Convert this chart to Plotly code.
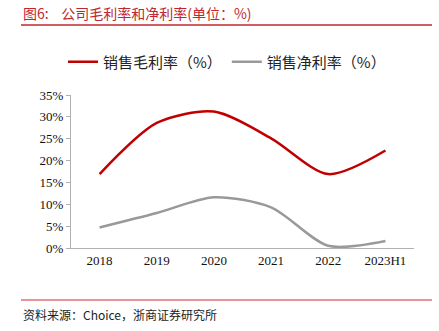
import plotly.graph_objects as go

categories = ["2018", "2019", "2020", "2021", "2022", "2023H1"]
gross_margin = [16.9, 28.6, 31.2, 25.1, 16.9, 22.3]
net_margin = [4.7, 8.0, 11.6, 9.3, 0.5, 1.6]
y_ticks = [0, 5, 10, 15, 20, 25, 30, 35]
y_tick_labels = [f"{v}%" for v in y_ticks]

W, H = 439, 331
L, R, T, B = 71, 25, 95, 83
pw, ph = W - L - R, H - T - B

def px_x(x):
    return (x - L) / pw

def px_y(y):
    return (H - B - y) / ph

cjk = "Noto Sans CJK SC"
serif = "Liberation Serif, Times New Roman, serif"

fig = go.Figure()
fig.add_trace(go.Scatter(x=categories, y=gross_margin, mode="lines",
                         name="销售毛利率（%）",
                         line=dict(color="#c00000", width=2.5, shape="spline", smoothing=0.8)))
fig.add_trace(go.Scatter(x=categories, y=net_margin, mode="lines",
                         name="销售净利率（%）",
                         line=dict(color="#999999", width=2.5, shape="spline", smoothing=0.8)))

fig.update_layout(
    width=W, height=H,
    margin=dict(l=L, r=R, t=T, b=B),
    paper_bgcolor="white", plot_bgcolor="white",
    showlegend=True,
    legend=dict(orientation="h", x=px_x(227), xanchor="center", y=px_y(62), yanchor="middle",
                font=dict(family=cjk, size=15, color="#222222"), itemwidth=30,
                tracegroupgap=0, bgcolor="rgba(0,0,0,0)"),
    xaxis=dict(type="category", range=[-0.5, 5.5], showgrid=False, showline=True,
               linecolor="#b0b0b0", linewidth=1, ticks="",
               tickfont=dict(family=serif, size=13, color="#111111"), fixedrange=True),
    yaxis=dict(range=[0, 35], tickvals=y_ticks, ticktext=y_tick_labels, showgrid=False,
               showline=True, linecolor="#b0b0b0", linewidth=1, ticks="outside",
               ticklen=4, tickcolor="#b0b0b0", zeroline=False,
               tickfont=dict(family=serif, size=13, color="#111111"), fixedrange=True),
    shapes=[
        dict(type="line", xref="paper", yref="paper", x0=px_x(21), x1=px_x(432),
             y0=px_y(25), y1=px_y(25), line=dict(color="#c0272d", width=1.5)),
        dict(type="line", xref="paper", yref="paper", x0=px_x(21), x1=px_x(432),
             y0=px_y(300), y1=px_y(300), line=dict(color="#e07070", width=1.5)),
    ],
    annotations=[
        dict(text="图6:    公司毛利率和净利率(单位：%)", xref="paper", yref="paper",
             x=px_x(21), y=px_y(13), xanchor="left", yanchor="middle", showarrow=False,
             font=dict(family=cjk, size=14, color="#c0272d")),
        dict(text="资料来源：Choice，浙商证券研究所", xref="paper", yref="paper",
             x=px_x(21), y=px_y(314), xanchor="left", yanchor="middle", showarrow=False,
             font=dict(family=cjk, size=12, color="#222222")),
    ],
)

fig.write_html("out.html")
